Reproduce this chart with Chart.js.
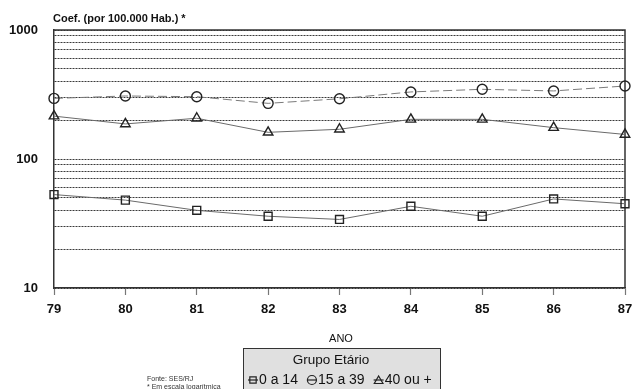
<!DOCTYPE html>
<html>
<head>
<meta charset="utf-8">
<script src="https://cdn.jsdelivr.net/npm/chart.js@4/dist/chart.umd.min.js"></script>
<style>
  html, body { margin: 0; padding: 0; background: #fff; }
  canvas { display: block; }
</style>
</head>
<body>
<canvas id="c" width="632" height="389"></canvas>
<script>
// Years (19xx) on the horizontal axis
const years = ['79', '80', '81', '82', '83', '84', '85', '86', '87'];

// Rates per 100.000 inhabitants by age group
const grp0a14  = [53, 48, 40, 36, 34, 43, 36, 49, 45];
const grp15a39 = [295, 308, 304, 270, 293, 331, 347, 337, 368];
const grp40mais = [215, 187, 207, 161, 170, 203, 203, 175, 155];

const seriesNames = ['0 a 14', '15 a 39', '40 ou +'];

// Log-scale grid values and the ones that carry a label
const yGridValues = [10, 20, 30, 40, 50, 60, 70, 80, 90, 100, 200, 300, 400, 500, 600, 700, 800, 900, 1000];
const yLabelValues = [10, 100, 1000];

const FONT = '"Liberation Sans", Arial, Helvetica, sans-serif';

const extras = {
  id: 'extras',
  beforeDatasetsDraw(chart) {
    const { ctx, chartArea: a } = chart;
    ctx.save();
    ctx.strokeStyle = '#333';
    ctx.lineWidth = 1.5;
    ctx.beginPath();
    ctx.moveTo(a.left, a.top);
    ctx.lineTo(a.right, a.top);
    ctx.lineTo(a.right, a.bottom);
    ctx.stroke();
    ctx.restore();
  },
  afterDraw(chart) {
    const { ctx } = chart;
    ctx.save();
    ctx.fillStyle = '#111';
    ctx.textBaseline = 'middle';

    // axis caption above the plot
    ctx.font = 'bold 11px ' + FONT;
    ctx.textAlign = 'left';
    ctx.fillText('Coef. (por 100.000 Hab.) *', 53, 19);

    // x axis title
    ctx.font = '11px ' + FONT;
    ctx.textAlign = 'center';
    ctx.fillText('ANO', 341, 339);

    // source notes
    ctx.font = '7px ' + FONT;
    ctx.textAlign = 'left';
    ctx.fillStyle = '#333';
    ctx.fillText('Fonte: SES/RJ', 147, 379);
    ctx.fillText('* Em escala logarítmica', 147, 387);

    // legend box
    ctx.fillStyle = '#e0e0e0';
    ctx.strokeStyle = '#333';
    ctx.lineWidth = 1;
    ctx.fillRect(243, 348, 197, 50);
    ctx.strokeRect(243.5, 348.5, 197, 50);

    ctx.fillStyle = '#111';
    ctx.font = '13.5px ' + FONT;
    ctx.textAlign = 'center';
    ctx.fillText('Grupo Etário', 331, 360);

    ctx.font = '14px ' + FONT;
    ctx.textAlign = 'left';
    let x = 247;
    const y = 380;
    chart.data.datasets.forEach((ds) => {
      const cx = x + 6;
      ctx.strokeStyle = '#222';
      ctx.lineWidth = 1.2;
      ctx.setLineDash([]);
      ctx.beginPath();
      ctx.moveTo(cx - 5, y);
      ctx.lineTo(cx + 5, y);
      ctx.stroke();
      ctx.fillStyle = 'rgba(0,0,0,0)';
      Chart.helpers.drawPoint(ctx, {
        pointStyle: ds.pointStyle,
        radius: ds.pointStyle === 'triangle' ? 5 : 4.5,
        rotation: 0,
        borderWidth: 1.2
      }, cx, ds.pointStyle === 'triangle' ? y + 1 : y);
      ctx.fillStyle = '#111';
      ctx.fillText(ds.label, x + 12, y);
      x += 12 + ctx.measureText(ds.label).width + 8;
    });
    ctx.restore();
  }
};

const markerBase = {
  borderWidth: 1,
  pointBorderColor: '#222',
  pointBackgroundColor: 'rgba(0,0,0,0)',
  pointBorderWidth: 1.4,
  pointHoverRadius: 5,
  tension: 0,
  fill: false,
  clip: 10
};

new Chart(document.getElementById('c'), {
  type: 'line',
  data: {
    labels: years,
    datasets: [
      Object.assign({}, markerBase, {
        label: seriesNames[0], data: grp0a14,
        borderColor: '#6a6a6a', pointStyle: 'rect', pointRadius: 5.6
      }),
      Object.assign({}, markerBase, {
        label: seriesNames[1], data: grp15a39,
        borderColor: '#7a7a7a', borderDash: [9, 4], pointStyle: 'circle', pointRadius: 5
      }),
      Object.assign({}, markerBase, {
        label: seriesNames[2], data: grp40mais,
        borderColor: '#6a6a6a', pointStyle: 'triangle', pointRadius: 5.5
      })
    ]
  },
  options: {
    responsive: false,
    animation: false,
    layout: { padding: { top: 30, right: 5, left: 0, bottom: 0 } },
    plugins: { legend: { display: false }, title: { display: false }, tooltip: { enabled: false } },
    scales: {
      x: {
        type: 'category',
        offset: false,
        afterFit(scale) {
          scale.height = 101;
          // let the last year label run into the margin instead of shrinking the plot
          scale.paddingLeft = 0;
          scale.paddingRight = 0;
        },
        grid: { drawOnChartArea: false, drawTicks: true, tickLength: 7, tickColor: '#777', tickWidth: 1.2 },
        border: { display: true, color: '#333', width: 1.5 },
        ticks: {
          color: '#111', padding: 7, maxRotation: 0, autoSkip: false,
          font: { family: FONT, size: 13, weight: 'bold' }
        }
      },
      y: {
        type: 'logarithmic',
        min: 10,
        max: 1000,
        afterFit(scale) { scale.width = 54; },
        afterBuildTicks(scale) { scale.ticks = yGridValues.map(v => ({ value: v })); },
        grid: { drawTicks: false, color: '#3a3a3a', lineWidth: 1 },
        border: { display: true, color: '#333', width: 1.5, dash: [2, 1] },
        ticks: {
          color: '#111', padding: 16, autoSkip: false,
          font: { family: FONT, size: 13, weight: 'bold' },
          callback(value) { return yLabelValues.includes(value) ? String(value) : ''; }
        }
      }
    }
  },
  plugins: [extras]
});
</script>
</body>
</html>
